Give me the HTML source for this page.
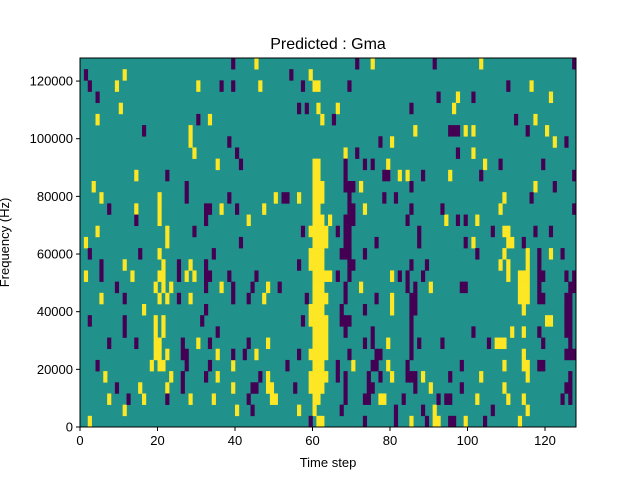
<!DOCTYPE html>
<html><head><meta charset="utf-8"><style>
html,body{margin:0;padding:0;background:#fff;}
svg{display:block;font-family:"Liberation Sans",sans-serif;}
</style></head><body>
<svg id="chart" width="640" height="480" viewBox="0 0 640 480" xmlns="http://www.w3.org/2000/svg">
<rect x="0" y="0" width="640" height="480" fill="#fff"/>
<text x="328" y="49" font-size="16" text-anchor="middle" fill="#000">Predicted : Gma</text>
<g id="plot"></g>
<g id="axes"></g>
<text x="328" y="467" font-size="13" text-anchor="middle" fill="#000">Time step</text>
<text transform="translate(9,242.5) rotate(-90)" font-size="13" text-anchor="middle" fill="#000">Frequency (Hz)</text>
</svg>
<script>
// Grid: time steps and frequency bins
const numSteps = 128;
const numBins = 33;
const maxFreq = 128000;
const xTickValues = [0, 20, 40, 60, 80, 100, 120];
const yTickValues = [0, 20000, 40000, 60000, 80000, 100000, 120000];
const yTickLabels = ["0", "20000", "40000", "60000", "80000", "100000", "120000"];
// Runs: [frequencyBin, firstStep, lastStep]  value +1 (yellow)
const highRuns = [
[32,45,45],[32,75,75],[32,103,103],
[31,11,11],[31,59,59],
[30,9,9],[30,30,30],[30,46,46],[30,60,61],[30,116,116],
[29,97,97],[29,121,121],
[28,10,10],[28,61,61],[28,66,66],[28,96,96],
[27,4,4],[27,33,33],[27,62,62],[27,117,117],
[26,28,28],[26,86,86],[26,99,99],[26,101,101],[26,120,120],
[25,28,28],[25,80,80],[25,122,122],
[24,29,29],[24,68,68],[24,101,101],
[23,35,35],[23,60,61],[23,79,79],[23,104,104],
[22,14,14],[22,60,61],[22,82,82],[22,84,84],[22,95,95],
[21,3,3],[21,60,62],[21,72,72],[21,117,117],
[20,5,5],[20,20,20],[20,50,50],[20,56,56],[20,60,62],[20,109,109],
[19,14,14],[19,20,20],[19,36,36],[19,47,47],[19,60,61],[19,73,73],[19,108,108],
[18,20,20],[18,43,43],[18,60,62],[18,64,64],[18,94,94],[18,102,102],
[17,4,4],[17,22,22],[17,59,63],[17,109,110],
[16,1,1],[16,22,22],[16,60,63],[16,101,101],[16,110,111],
[15,20,20],[15,59,62],[15,109,109],[15,115,115],[15,121,121],
[14,11,11],[14,21,21],[14,28,28],[14,59,62],[14,108,108],[14,110,110],[14,115,115],
[13,1,1],[13,13,13],[13,20,21],[13,27,27],[13,29,29],[13,60,64],[13,80,80],[13,110,110],[13,113,115],
[12,19,19],[12,21,21],[12,23,23],[12,36,36],[12,48,48],[12,60,62],[12,72,72],[12,90,90],[12,113,115],
[11,5,5],[11,20,20],[11,22,22],[11,28,28],[11,47,47],[11,60,63],[11,80,80],[11,113,115],
[10,16,16],[10,59,62],[10,80,80],[10,114,114],
[9,19,19],[9,21,21],[9,59,63],[9,120,121],
[8,19,19],[8,21,21],[8,60,63],[8,111,111],[8,114,114],
[7,19,20],[7,30,30],[7,48,48],[7,60,63],[7,79,79],[7,107,109],
[6,19,20],[6,22,22],[6,35,35],[6,45,45],[6,59,63],[6,114,114],
[5,18,18],[5,20,21],[5,39,39],[5,60,62],[5,70,70],[5,79,79],[5,109,109],[5,114,115],
[4,6,6],[4,23,23],[4,35,35],[4,48,48],[4,59,63],[4,80,80],[4,88,88],[4,103,103],[4,115,115],
[3,15,15],[3,22,22],[3,39,39],[3,48,49],[3,59,62],[3,90,90],[3,109,109],
[2,7,7],[2,16,16],[2,28,28],[2,34,34],[2,49,50],[2,60,61],[2,77,78],[2,102,102],[2,110,110],[2,114,114],
[1,11,11],[1,40,40],[1,56,56],[1,60,60],[1,91,91],[1,115,115],
[0,2,2],[0,61,62],[0,85,85],[0,91,92],[0,99,99],[0,113,113]
];
// Runs: [frequencyBin, firstStep, lastStep]  value -1 (purple)
const lowRuns = [
[32,39,39],[32,71,71],[32,91,91],[32,127,127],
[31,1,1],[31,54,54],
[30,2,2],[30,36,36],[30,39,39],[30,57,57],[30,69,69],[30,110,110],
[29,4,4],[29,92,92],[29,101,101],
[28,56,56],[28,58,58],[28,85,85],
[27,30,30],[27,65,65],[27,112,112],
[26,16,16],[26,95,97],[26,115,115],
[25,38,38],[25,77,77],[25,125,125],
[24,40,40],[24,71,71],[24,97,97],
[23,41,41],[23,68,68],[23,73,73],[23,75,75],[23,108,108],[23,119,119],
[22,22,22],[22,68,68],[22,78,79],[22,88,88],[22,103,103],[22,127,127],
[21,27,27],[21,68,70],[21,85,85],[21,122,122],
[20,27,27],[20,38,38],[20,52,53],[20,69,69],[20,78,78],[20,81,81],[20,116,116],
[19,7,7],[19,32,33],[19,40,40],[19,69,70],[19,85,85],[19,93,93],[19,127,127],
[18,14,14],[18,32,32],[18,68,70],[18,84,84],[18,97,97],[18,99,99],
[17,29,29],[17,57,57],[17,66,66],[17,68,69],[17,87,87],[17,106,106],[17,117,117],[17,121,121],
[16,41,41],[16,68,69],[16,76,76],[16,87,87],[16,99,99],[16,114,114],
[15,2,2],[15,15,15],[15,34,34],[15,67,69],[15,73,73],[15,102,102],[15,118,118],[15,124,124],
[14,5,5],[14,25,25],[14,32,32],[14,56,56],[14,69,70],[14,85,85],[14,89,89],[14,118,118],
[13,5,5],[13,25,25],[13,32,33],[13,38,38],[13,45,45],[13,66,66],[13,69,69],[13,82,82],[13,84,84],[13,88,88],[13,118,119],[13,125,125],[13,127,127],
[12,9,9],[12,32,32],[12,39,39],[12,44,44],[12,51,51],[12,68,68],[12,84,84],[12,86,86],[12,98,99],[12,118,118],[12,126,127],
[11,11,11],[11,25,25],[11,39,39],[11,43,43],[11,58,58],[11,68,68],[11,76,76],[11,85,86],[11,118,119],[11,125,126],
[10,32,32],[10,67,67],[10,73,73],[10,85,86],[10,125,126],
[9,2,2],[9,11,11],[9,31,31],[9,57,57],[9,67,69],[9,85,85],[9,125,126],
[8,11,11],[8,35,35],[8,68,68],[8,75,75],[8,85,85],[8,101,101],[8,118,118],[8,125,126],
[7,7,7],[7,14,14],[7,26,26],[7,33,33],[7,43,43],[7,73,73],[7,75,75],[7,85,85],[7,87,87],[7,93,93],[7,105,105],[7,119,119],[7,126,126],
[6,26,27],[6,39,39],[6,42,42],[6,56,56],[6,69,69],[6,76,77],[6,85,85],[6,125,127],
[5,4,4],[5,27,27],[5,33,33],[5,53,53],[5,66,66],[5,75,76],[5,84,84],[5,98,98],[5,118,119],
[4,26,26],[4,32,32],[4,46,46],[4,66,66],[4,68,68],[4,74,74],[4,77,77],[4,84,86],[4,95,95],[4,126,126],
[3,9,9],[3,26,26],[3,44,45],[3,55,55],[3,68,68],[3,74,75],[3,86,86],[3,98,98],[3,125,126],
[2,12,12],[2,22,22],[2,43,43],[2,68,68],[2,73,74],[2,83,83],[2,92,92],[2,94,95],[2,124,124],[2,126,126],
[1,44,44],[1,67,67],[1,81,81],[1,88,88],[1,106,106],
[0,59,59],[0,73,73],[0,81,81],[0,89,89],[0,95,96],[0,104,104]
];

const NS = "http://www.w3.org/2000/svg";
const L = 80, R = 576, T = 58, B = 427;
const xScale = v => L + (v / numSteps) * (R - L);
const yScale = f => B - (f / maxFreq) * (B - T);
const binHz = maxFreq / numBins;
const COLORS = {bg: "#21918c", high: "#fde725", low: "#440154"};

const plot = document.getElementById("plot");
const bg = document.createElementNS(NS, "rect");
bg.setAttribute("x", L); bg.setAttribute("y", T);
bg.setAttribute("width", R - L); bg.setAttribute("height", B - T);
bg.setAttribute("fill", COLORS.bg);


plot.appendChild(bg);

function drawRuns(runs, color, name) {
  runs.forEach(r => {
    const bin = r[0], s0 = r[1], s1 = r[2];
    const x0 = xScale(s0), x1 = xScale(s1 + 1);
    const yTop = yScale(Math.min(maxFreq, (bin + 1) * binHz)), yBot = yScale(bin * binHz);
    const rc = document.createElementNS(NS, "rect");
    rc.setAttribute("x", x0.toFixed(2)); rc.setAttribute("y", yTop.toFixed(2));
    rc.setAttribute("width", (x1 - x0 + 0.3).toFixed(2)); rc.setAttribute("height", (yBot - yTop + 0.3).toFixed(2));
    rc.setAttribute("fill", color);
    
    
    plot.appendChild(rc);
  });
}
drawRuns(highRuns, COLORS.high, 'heatmap-cell-high');
drawRuns(lowRuns, COLORS.low, 'heatmap-cell-low');

const axes = document.getElementById("axes");
const frame = document.createElementNS(NS, "rect");
frame.setAttribute("x", L); frame.setAttribute("y", T);
frame.setAttribute("width", R - L); frame.setAttribute("height", B - T);
frame.setAttribute("fill", "none"); frame.setAttribute("stroke", "#000"); frame.setAttribute("stroke-width", "1");


axes.appendChild(frame);

xTickValues.forEach(v => {
  const x = xScale(v);
  const ln = document.createElementNS(NS, "line");
  ln.setAttribute("x1", x); ln.setAttribute("x2", x); ln.setAttribute("y1", B); ln.setAttribute("y2", B + 4);
  ln.setAttribute("stroke", "#000");
  
  
  axes.appendChild(ln);
  const t = document.createElementNS(NS, "text");
  t.setAttribute("x", x); t.setAttribute("y", B + 18); t.setAttribute("font-size", "13");
  t.setAttribute("text-anchor", "middle"); t.textContent = String(v);
  
  
  axes.appendChild(t);
});
yTickValues.forEach((v, i) => {
  const y = yScale(v);
  const ln = document.createElementNS(NS, "line");
  ln.setAttribute("x1", L - 4); ln.setAttribute("x2", L); ln.setAttribute("y1", y); ln.setAttribute("y2", y);
  ln.setAttribute("stroke", "#000");
  
  
  axes.appendChild(ln);
  const t = document.createElementNS(NS, "text");
  t.setAttribute("x", L - 7); t.setAttribute("y", y + 4.5); t.setAttribute("font-size", "13");
  t.setAttribute("text-anchor", "end"); t.textContent = yTickLabels[i];
  
  
  axes.appendChild(t);
});
</script>
</body></html>
